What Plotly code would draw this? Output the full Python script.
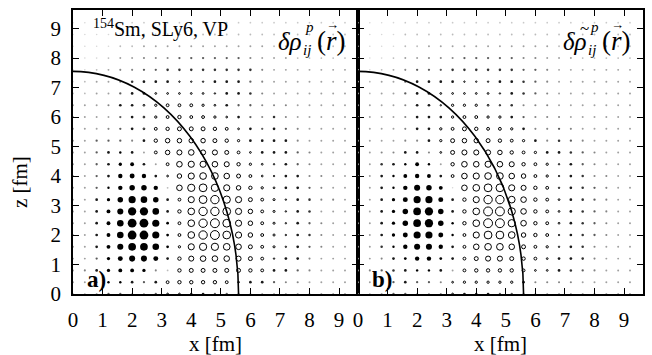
import plotly.graph_objects as go

# grid of the plot (fm)
GRID_STEP = 0.4

# signed marker magnitudes (positive = filled, negative = open)
# rows: z index 0..23 (bottom to top), columns: x index 0..23
panel_a = [
    [0.8,0.8,1.0,1.5,1.5,1.0,1.0,1.5,-2.5,-2.5,-2.5,-2.0,-1.5,-1.5,-1.2,-1.0,-1.0,-1.0,-1.0,-1.0,-1.0,-1.0,-1.0,-1.0],
    [1.0,1.0,1.2,2.2,2.2,2.0,1.5,2.0,-3.5,-4.0,-4.0,-4.0,-4.0,-3.5,-2.5,-2.0,-2.0,-1.5,-1.2,-1.2,-1.0,-1.0,-1.0,-1.0],
    [1.0,1.2,2.0,3.0,3.5,3.5,3.0,1.2,0.8,-4.0,-4.5,-4.5,-4.5,-4.5,-4.5,-4.0,-3.5,-2.0,-2.0,-1.5,-1.2,-1.0,-1.0,-1.0],
    [1.0,1.0,1.5,3.0,4.5,5.5,5.5,4.5,2.0,-4.0,-5.5,-6.0,-6.0,-6.0,-5.5,-4.5,-3.5,-2.2,-2.0,-2.0,-1.2,-1.0,-1.0,-1.0],
    [1.0,1.0,2.0,3.5,5.5,7.0,7.0,6.0,2.5,-3.0,-6.5,-7.5,-7.5,-7.0,-6.0,-4.5,-3.5,-2.8,-2.2,-2.0,-1.5,-1.2,-1.0,-1.0],
    [1.0,1.0,2.0,3.5,6.0,8.0,8.0,6.5,2.5,-3.5,-7.0,-8.5,-9.0,-8.0,-6.5,-5.0,-3.5,-2.8,-2.2,-2.0,-1.8,-1.2,-1.0,-1.0],
    [1.0,1.0,2.0,3.5,6.0,8.0,8.0,6.5,2.5,-3.5,-7.0,-8.5,-9.0,-8.0,-6.5,-5.0,-3.5,-2.8,-2.2,-2.0,-1.5,-1.2,-1.0,-1.0],
    [1.0,1.0,2.0,3.5,5.5,7.5,7.5,6.0,2.0,-4.0,-7.0,-8.5,-8.5,-8.0,-6.5,-5.0,-3.5,-2.8,-2.2,-2.0,-1.8,-1.0,-1.0,-1.0],
    [1.0,1.0,2.0,3.0,5.0,6.5,6.0,5.0,2.0,-3.5,-6.5,-8.0,-8.5,-7.5,-6.5,-4.5,-3.5,-2.8,-2.2,-2.0,-1.8,-1.2,-1.2,-1.0],
    [1.0,1.0,1.5,2.2,4.0,5.0,5.0,4.0,0.8,-6.0,-7.5,-8.0,-7.5,-6.5,-5.0,-4.0,-3.0,-2.5,-2.0,-2.0,-1.5,-1.2,-1.0,-1.0],
    [1.0,1.0,1.5,2.0,4.0,4.5,4.0,2.0,-2.5,-5.0,-6.5,-7.0,-7.0,-6.0,-4.5,-3.5,-2.5,-2.2,-2.0,-2.0,-1.2,-1.2,-1.0,-1.0],
    [1.0,1.0,1.5,2.0,3.0,3.5,2.0,1.0,-3.5,-6.0,-6.5,-6.5,-6.0,-5.5,-4.0,-3.0,-2.5,-2.2,-2.0,-1.5,-1.2,-1.0,-1.0,-1.0],
    [1.0,1.0,1.5,2.0,2.2,2.0,1.0,-3.5,-5.0,-5.5,-6.0,-5.5,-5.5,-4.5,-3.5,-2.5,-2.0,-2.0,-2.0,-1.5,-1.2,-1.0,-1.0,-1.0],
    [1.0,1.0,1.5,1.5,1.5,1.2,-2.0,-4.0,-5.0,-5.0,-5.0,-5.0,-4.5,-4.0,-3.0,-2.0,-2.0,-2.0,-2.0,-1.2,-1.0,-1.0,-1.0,-1.0],
    [1.0,1.0,1.0,1.2,1.5,2.0,-2.5,-3.5,-4.0,-4.5,-4.5,-4.5,-4.0,-3.5,-2.5,-2.0,-1.5,-2.0,-1.5,-1.2,-1.0,-1.0,-1.0,-1.0],
    [1.0,1.0,1.0,1.0,1.5,2.0,-2.5,-3.0,-3.5,-4.0,-3.5,-3.5,-3.0,-2.5,-2.0,-1.5,-1.2,-1.8,-1.2,-1.0,-1.0,-1.0,-1.0,-1.0],
    [1.0,1.0,1.0,1.2,2.0,2.0,-2.5,-3.0,-3.5,-3.5,-3.5,-3.0,-2.5,-2.0,-1.5,-1.5,-1.2,-1.2,-1.2,-1.0,-1.0,-1.0,-1.0,-1.0],
    [0.8,0.8,1.0,1.0,1.5,2.0,2.0,-2.5,-2.5,-2.5,-2.5,-2.5,-2.2,-2.0,-2.0,-1.8,-1.2,-1.0,-1.0,-1.0,-1.0,-1.0,-1.0,-1.0],
    [0.6,0.8,1.0,1.0,1.2,1.8,2.0,-2.0,-2.0,-2.2,-2.2,-2.2,-2.0,-2.0,-2.0,-1.5,-1.2,-1.0,-1.0,-1.0,-1.0,-1.0,-1.0,-1.0],
    [0.6,0.6,0.8,1.0,1.2,1.2,1.5,-1.5,-1.8,-1.8,-1.8,-1.8,-1.8,-1.8,-1.8,-1.8,-1.2,-1.0,-1.0,-1.0,-1.0,-1.0,-1.0,-1.0],
    [0.5,0.5,0.6,0.8,1.0,1.0,1.2,-1.2,-1.2,-1.5,-1.5,-1.5,-1.5,-1.5,-1.5,-1.2,-1.0,-1.0,-1.0,-0.8,-0.8,-0.8,-0.8,-0.8],
    [0.5,0.5,0.5,0.6,0.8,0.8,1.0,-1.0,-1.0,-1.0,-1.0,-1.0,-1.0,-1.0,-1.0,-1.0,-1.0,-0.8,-0.8,-0.8,-0.8,-0.8,-0.8,-0.8],
    [0.5,0.5,0.5,0.6,0.8,0.8,0.8,-0.8,-0.8,-0.8,-0.8,-0.8,-0.8,-0.8,-0.8,-0.8,-0.8,-0.8,-0.8,-0.8,-0.8,-0.8,-0.8,-0.8],
    [0.5,0.5,0.5,0.6,0.7,0.7,0.7,-0.7,-0.7,-0.7,-0.7,-0.7,-0.7,-0.7,-0.7,-0.7,-0.7,-0.7,-0.7,-0.7,-0.7,-0.7,-0.7,-0.7],
]

panel_b = [
    [0.8,0.8,1.0,1.5,1.5,1.0,1.0,1.2,-2.5,-2.0,-2.5,-2.0,-1.5,-1.5,-1.2,-1.0,-1.0,-1.0,-1.0,-1.0,-1.0,-1.0,-1.0,-1.0],
    [1.0,1.0,1.2,1.5,2.0,1.5,1.5,1.2,-2.5,-3.0,-3.0,-3.0,-3.0,-3.0,-2.0,-1.2,-1.2,-1.2,-1.2,-1.0,-1.0,-1.0,-1.0,-1.0],
    [1.0,1.2,1.5,1.8,2.0,2.2,2.2,2.0,1.0,-3.5,-4.0,-4.0,-4.0,-4.0,-3.5,-2.5,-2.5,-2.0,-1.8,-1.5,-1.2,-1.0,-1.0,-1.0],
    [1.0,1.0,1.2,2.0,2.5,4.0,4.0,2.5,2.0,-3.5,-4.5,-5.5,-5.5,-4.5,-4.0,-3.5,-2.5,-2.0,-2.0,-1.8,-1.2,-1.0,-1.0,-1.0],
    [1.0,1.0,1.8,2.2,4.0,5.5,5.5,4.0,2.0,-3.5,-6.0,-7.0,-7.0,-6.0,-4.5,-3.5,-3.0,-2.2,-2.0,-1.8,-1.2,-1.0,-1.0,-1.0],
    [1.0,1.0,2.0,3.0,4.5,6.5,6.5,4.5,2.2,-3.5,-6.5,-8.0,-8.0,-7.0,-5.0,-4.0,-3.5,-2.2,-2.0,-1.8,-1.5,-1.2,-1.0,-1.0],
    [1.0,1.0,2.0,3.0,5.0,7.0,7.5,5.0,2.2,-4.0,-7.0,-9.0,-9.0,-7.5,-6.0,-4.0,-3.5,-2.5,-2.0,-1.8,-1.5,-1.2,-1.0,-1.0],
    [1.0,1.0,2.0,3.0,5.0,7.0,7.5,5.0,2.0,-4.0,-7.0,-9.0,-9.0,-7.5,-6.0,-4.0,-3.5,-2.5,-2.0,-1.8,-1.5,-1.2,-1.0,-1.0],
    [1.0,1.0,2.0,3.0,4.5,6.5,6.5,4.5,2.0,-4.0,-6.5,-8.5,-8.5,-7.0,-6.0,-4.0,-3.5,-2.5,-2.0,-1.8,-1.5,-1.2,-1.0,-1.0],
    [1.0,1.0,2.0,2.2,4.0,5.5,5.0,3.5,0.5,-6.0,-7.0,-8.0,-8.0,-6.5,-5.5,-4.0,-3.5,-2.2,-2.0,-1.8,-1.5,-1.2,-1.0,-1.0],
    [1.0,1.0,2.0,2.2,3.5,4.0,3.5,2.0,-3.5,-6.0,-6.5,-7.0,-7.0,-6.0,-5.0,-3.5,-3.0,-2.2,-2.0,-1.8,-1.2,-1.2,-1.0,-1.0],
    [1.0,1.0,1.8,2.0,2.2,3.5,2.2,1.0,-4.0,-6.0,-6.0,-6.5,-6.0,-5.5,-4.0,-3.5,-3.0,-2.2,-2.0,-1.5,-1.2,-1.0,-1.0,-1.0],
    [1.0,1.0,1.2,1.2,2.0,2.0,1.2,-2.5,-4.5,-5.5,-5.5,-5.5,-5.0,-4.0,-3.5,-3.0,-2.0,-2.0,-1.8,-1.5,-1.2,-1.0,-1.0,-1.0],
    [1.0,1.0,1.0,1.0,1.2,1.2,2.0,-3.0,-4.5,-5.0,-5.0,-4.5,-4.0,-3.5,-3.0,-2.0,-1.2,-1.8,-1.5,-1.2,-1.0,-1.0,-1.0,-1.0],
    [1.0,1.0,1.0,1.0,1.2,2.0,2.0,-3.0,-3.5,-4.5,-4.0,-3.5,-3.5,-3.0,-2.0,-1.2,-1.2,-1.5,-1.2,-1.0,-1.0,-1.0,-1.0,-1.0],
    [1.0,1.0,1.0,1.0,1.2,2.0,2.0,2.0,-3.0,-3.5,-3.5,-3.0,-3.0,-2.0,-1.5,-1.2,-1.2,-1.2,-1.0,-1.0,-1.0,-1.0,-1.0,-1.0],
    [1.0,1.0,1.0,1.0,1.2,2.0,2.0,-2.2,-3.0,-3.0,-3.0,-2.5,-2.2,-1.8,-1.2,-1.2,-1.2,-1.0,-1.0,-1.0,-1.0,-1.0,-1.0,-1.0],
    [0.8,0.8,1.0,1.0,1.5,2.0,2.0,-2.5,-2.5,-2.5,-2.5,-2.5,-2.2,-2.0,-1.8,-1.5,-1.2,-1.0,-1.0,-1.0,-1.0,-1.0,-1.0,-1.0],
    [0.6,0.8,1.0,1.0,1.5,2.0,2.0,-2.0,-2.0,-2.2,-2.2,-2.2,-2.0,-2.0,-1.8,-1.5,-1.2,-1.0,-1.0,-1.0,-1.0,-1.0,-1.0,-1.0],
    [0.6,0.6,0.8,1.0,1.2,1.5,1.5,-1.5,-1.8,-1.8,-1.8,-1.8,-1.8,-1.8,-1.5,-1.5,-1.2,-1.0,-1.0,-1.0,-1.0,-1.0,-1.0,-1.0],
    [0.5,0.5,0.6,0.8,1.0,1.0,1.2,-1.2,-1.2,-1.5,-1.5,-1.5,-1.5,-1.5,-1.2,-1.2,-1.0,-1.0,-1.0,-0.8,-0.8,-0.8,-0.8,-0.8],
    [0.5,0.5,0.5,0.6,0.8,0.8,1.0,-1.0,-1.0,-1.0,-1.0,-1.0,-1.0,-1.0,-1.0,-1.0,-1.0,-0.8,-0.8,-0.8,-0.8,-0.8,-0.8,-0.8],
    [0.5,0.5,0.5,0.6,0.8,0.8,0.8,-0.8,-0.8,-0.8,-0.8,-0.8,-0.8,-0.8,-0.8,-0.8,-0.8,-0.8,-0.8,-0.8,-0.8,-0.8,-0.8,-0.8],
    [0.5,0.5,0.5,0.6,0.7,0.7,0.7,-0.7,-0.7,-0.7,-0.7,-0.7,-0.7,-0.7,-0.7,-0.7,-0.7,-0.7,-0.7,-0.7,-0.7,-0.7,-0.7,-0.7],
]

# nuclear surface (half-density contour) semi-axes, fm
R_X = 5.6
R_Z = 7.55

x_ticks = list(range(10))
z_ticks = list(range(10))
X_MAX = 9.64
Z_MAX = 9.63

FONT = '"Liberation Serif", "Times New Roman", "DejaVu Serif", serif'
SIZE_SCALE = 1.1


def marker_traces(mat, xa, ya):
    tiny = dict(x=[], y=[], s=[], c=[])
    filled = dict(x=[], y=[], s=[])
    opened = dict(x=[], y=[], s=[])
    for j, row in enumerate(mat):
        for k, v in enumerate(row):
            x = k * GRID_STEP
            z = j * GRID_STEP
            a = abs(v)
            if a < 2.2:
                t = min(max((a - 0.6) / 1.4, 0.0), 1.0)
                g = int(215 - t * 190)
                tiny["x"].append(x); tiny["y"].append(z)
                tiny["s"].append(1.2 + 0.75 * a)
                tiny["c"].append(f"rgb({g},{g},{g})")
            elif v > 0:
                filled["x"].append(x); filled["y"].append(z); filled["s"].append(a * SIZE_SCALE)
            else:
                opened["x"].append(x); opened["y"].append(z); opened["s"].append(a * SIZE_SCALE - 1.0)
    return [
        go.Scatter(x=tiny["x"], y=tiny["y"], mode="markers", xaxis=xa, yaxis=ya,
                   marker=dict(symbol="circle", size=tiny["s"], color=tiny["c"], opacity=1,
                               line=dict(width=0)),
                   showlegend=False, hoverinfo="skip"),
        go.Scatter(x=filled["x"], y=filled["y"], mode="markers", xaxis=xa, yaxis=ya,
                   marker=dict(symbol="circle", size=filled["s"], color="black", opacity=1,
                               line=dict(width=0)),
                   showlegend=False, hoverinfo="skip"),
        go.Scatter(x=opened["x"], y=opened["y"], mode="markers", xaxis=xa, yaxis=ya,
                   marker=dict(symbol="circle-open", size=opened["s"], color="black", opacity=1,
                               line=dict(width=1, color="black")),
                   showlegend=False, hoverinfo="skip"),
    ]


fig = go.Figure()
for tr in marker_traces(panel_a, "x", "y"):
    fig.add_trace(tr)
for tr in marker_traces(panel_b, "x2", "y2"):
    fig.add_trace(tr)

for xr, yr in (("x", "y"), ("x2", "y2")):
    fig.add_shape(type="circle", xref=xr, yref=yr, x0=-R_X, x1=R_X, y0=-R_Z, y1=R_Z,
                  line=dict(color="black", width=1.6), layer="above")

axis_common = dict(showgrid=False, zeroline=False, showline=True, linecolor="black", linewidth=1.5,
                   mirror="ticks", ticks="inside", ticklen=6, tickwidth=1, tickcolor="black",
                   automargin=False,
                   tickfont=dict(family=FONT, size=21, color="black"))
title_font = dict(family=FONT, size=21, color="black")

fig.update_layout(
    width=652, height=355,
    margin=dict(l=73, r=9, t=10, b=61),
    paper_bgcolor="white", plot_bgcolor="white",
    xaxis=dict(domain=[0, 0.5], range=[0, X_MAX], tickvals=x_ticks, anchor="y", ticklabelstandoff=6,
               **axis_common),
    xaxis2=dict(domain=[0.5, 1.0], range=[0, X_MAX], tickvals=x_ticks, anchor="y2", ticklabelstandoff=6,
                **axis_common),
    yaxis=dict(domain=[0, 1], range=[0, Z_MAX], tickvals=z_ticks, anchor="x", ticklabelstandoff=6,
               **axis_common),
    yaxis2=dict(domain=[0, 1], range=[0, Z_MAX], tickvals=z_ticks, anchor="x2", showticklabels=False,
                **axis_common),
)

# axis titles
fig.add_annotation(xref="x domain", yref="paper", x=0.5, y=-0.176, xanchor="center", yanchor="middle",
                   text="x [fm]", showarrow=False, font=title_font)
fig.add_annotation(xref="x2 domain", yref="paper", x=0.5, y=-0.176, xanchor="center", yanchor="middle",
                   text="x [fm]", showarrow=False, font=title_font)
fig.add_annotation(xref="paper", yref="paper", x=-0.093, y=0.394, xanchor="center", yanchor="middle",
                   text="z [fm]", textangle=-90, showarrow=False, font=title_font)

ann_font = dict(family=FONT, size=20, color="black")
fig.add_annotation(xref="x domain", yref="y domain", x=0.062, y=0.985, xanchor="left", yanchor="top",
                   text="<sup>154</sup>Sm, SLy6, VP", showarrow=False, font=ann_font)
fig.add_annotation(xref="x domain", yref="y domain", x=0.042, y=0.0, xanchor="left", yanchor="bottom",
                   text="<b>a)</b>", showarrow=False, font=dict(family=FONT, size=23, color="black"))
fig.add_annotation(xref="x2 domain", yref="y2 domain", x=0.042, y=0.0, xanchor="left", yanchor="bottom",
                   text="<b>b)</b>", showarrow=False, font=dict(family=FONT, size=23, color="black"))

# density labels: main symbol, stacked super/subscripts, argument with vector arrow
big = dict(family=FONT, size=25, color="black")
small = dict(family=FONT, size=15, color="black")
for xd, yd, tilde in (("x domain", "y domain", False), ("x2 domain", "y2 domain", True)):
    fig.add_annotation(xref=xd, yref=yd, x=0.712, y=0.89, xanchor="left", yanchor="middle",
                       text="<i>δρ</i>", showarrow=False, font=big)
    if tilde:
        fig.add_annotation(xref=xd, yref=yd, x=0.772, y=0.935, xanchor="left", yanchor="middle",
                           text="~", showarrow=False, font=dict(family=FONT, size=17, color="black"))
    fig.add_annotation(xref=xd, yref=yd, x=0.807, y=0.94, xanchor="left", yanchor="middle",
                       text="<i>p</i>", showarrow=False, font=small)
    fig.add_annotation(xref=xd, yref=yd, x=0.80, y=0.86, xanchor="left", yanchor="middle",
                       text="<i>ij</i>", showarrow=False, font=small)
    fig.add_annotation(xref=xd, yref=yd, x=0.848, y=0.89, xanchor="left", yanchor="middle",
                       text="(<i>r</i>)", showarrow=False, font=dict(family=FONT, size=27, color="black"))
    fig.add_annotation(xref=xd, yref=yd, x=0.880, y=0.95, xanchor="left", yanchor="middle",
                       text="→", showarrow=False, font=dict(family=FONT, size=13, color="black"))

fig.write_html("out.html")
